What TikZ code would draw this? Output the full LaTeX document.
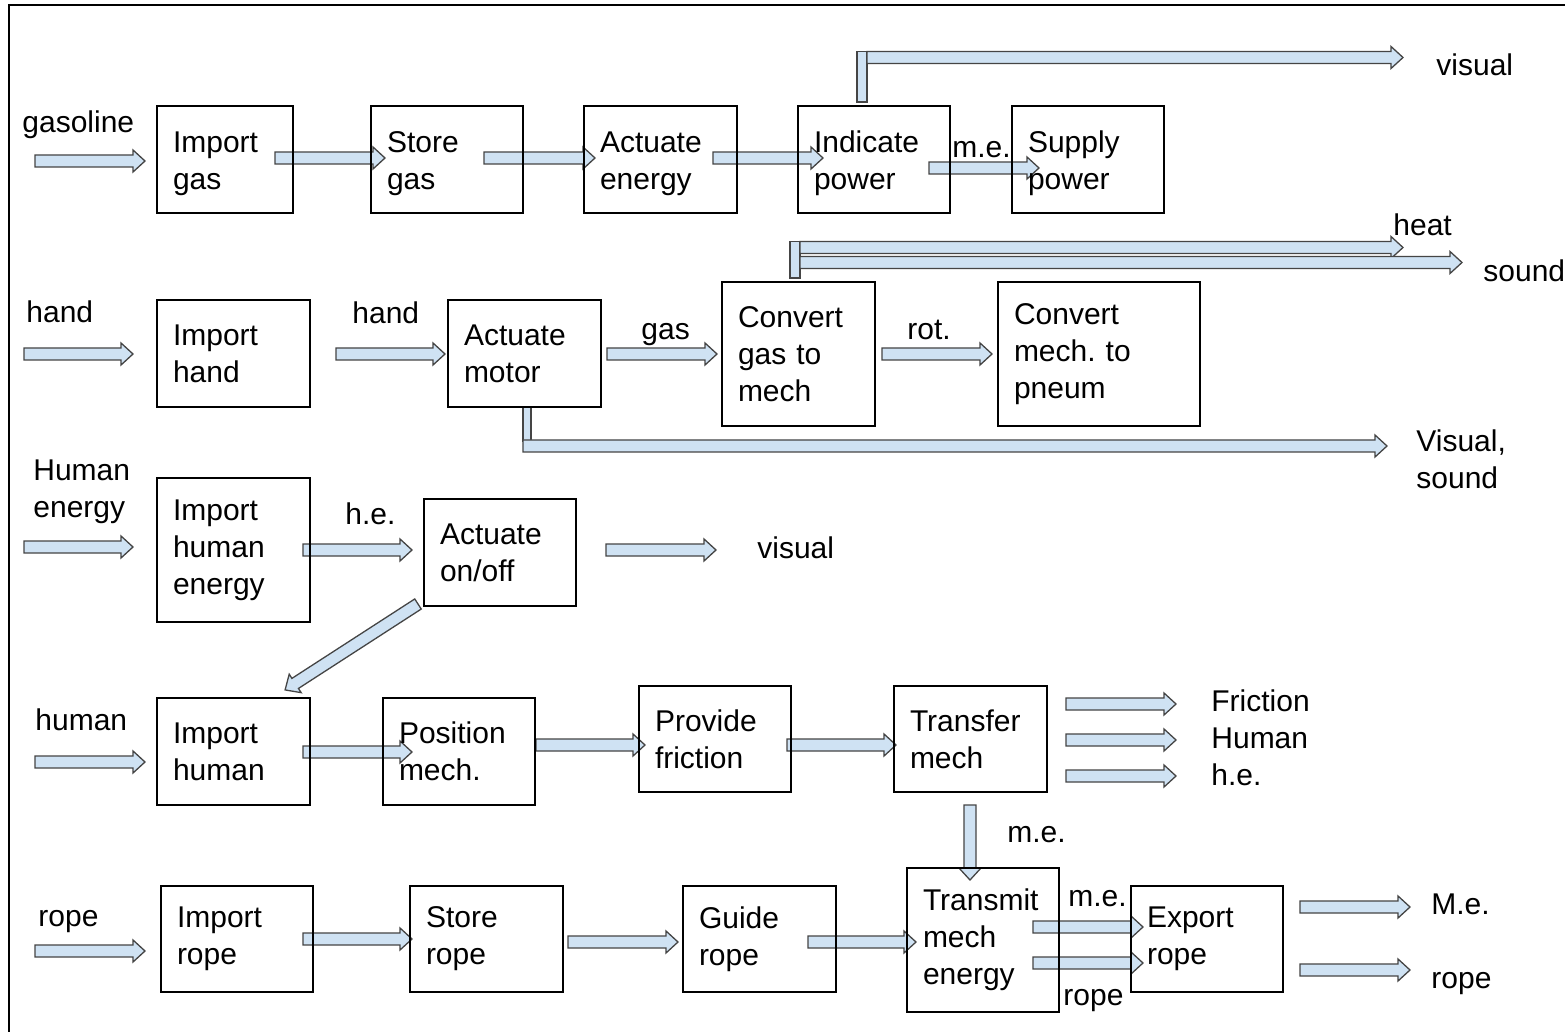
\documentclass[tikz,border=0pt]{standalone}
\usepackage{fontspec}
\setmainfont{Liberation Sans}
\usetikzlibrary{calc}
\definecolor{afill}{HTML}{CFE2F3}
\definecolor{aline}{HTML}{454545}
\pgfdeclarelayer{bg}
\pgfdeclarelayer{arr}
\pgfsetlayers{bg,arr,main}
\tikzset{
  barrow/.style={draw=aline, fill=afill, line width=0.65pt, line join=miter},
  box/.style={draw=black, line width=1.4pt, outer sep=0pt, inner xsep=8pt, inner ysep=0pt, align=left, anchor=north west, font=\fontsize{15}{18.5}\selectfont\frenchspacing},
  lbl/.style={inner sep=0pt, anchor=west, font=\fontsize{15}{18.5}\selectfont\frenchspacing, text height=11pt, text depth=3pt},
  lblm/.style={inner sep=0pt, anchor=north west, align=left, font=\fontsize{15}{18.5}\selectfont\frenchspacing},
}
\newcommand\barr[2]{%
  \path[barrow] let \p1=(#1), \p2=(#2), \n1={atan2(\y2-\y1,\x2-\x1)}, \n2={veclen(\x2-\x1,\y2-\y1)} in
    [shift={(\p1)}, rotate=\n1] (0pt,-3pt) -- ({\n2*1pt-6pt},-3pt) -- ({\n2*1pt-6pt},-5.5pt) -- ({\n2*1pt},0pt) -- ({\n2*1pt-6pt},5.5pt) -- ({\n2*1pt-6pt},3pt) -- (0pt,3pt) -- cycle;%
}
\newcommand\bx[6]{%
  \pgfmathsetmacro\bxtw{#4*0.5-16}%
  \pgfmathsetmacro\bxh{#5*0.5}%
  \node[box, text width=\bxtw pt, minimum height=\bxh pt] (#1) at (#2,#3) {#6};%
}
\newcommand\lowstrut{\rule{0pt}{14.5pt}}
\begin{document}
\begin{tikzpicture}[x=0.5pt,y=-0.5pt]
\useasboundingbox (0,0) rectangle (1565,1032);
\begin{pgfonlayer}{bg}
\fill[white] (0,0) rectangle (1565,1032);
\end{pgfonlayer}
\draw[line width=1.2pt] (9,1032) -- (9,5.3) -- (1565,5.3);

% boxes
\bx{ig}{157}{106}{136}{107}{\lowstrut Import\\gas}
\bx{sg}{371}{106}{152}{107}{\lowstrut Store\\gas}
\bx{ae}{584}{106}{153}{107}{\lowstrut Actuate\\energy}
\bx{ip}{798}{106}{152}{107}{\lowstrut Indicate\\power}
\bx{sp}{1012}{106}{152}{107}{\lowstrut Supply\\power}
\bx{ih}{157}{300}{153}{107}{Import\\hand}
\bx{am}{448}{300}{153}{107}{Actuate\\motor}
\bx{cg}{722}{282}{153}{144}{Convert\\gas to\\mech}
\bx{cm}{998}{282}{202}{144}{Convert\\mech. to\\pneum}
\bx{ihe}{157}{478}{153}{144}{Import\\human\\energy}
\bx{ao}{424}{499}{152}{107}{Actuate\\on/off}
\bx{ihu}{157}{698}{153}{107}{Import\\human}
\bx{pm}{383}{698}{152}{107}{Position\\mech.}
\bx{pf}{639}{686}{152}{106}{Provide\\friction}
\bx{tm}{894}{686}{153}{106}{Transfer\\mech}
\bx{ir}{161}{886}{152}{106}{Import\\rope}
\bx{sr}{410}{886}{153}{106}{Store\\rope}
\bx{gr}{683}{886}{153}{106}{Guide\\rope}
\bx{tme}{907}{868}{152}{144}{Transmit\\mech\\energy}
\bx{er}{1131}{886}{152}{106}{Export\\rope}

% labels
\node[lbl] (l1) at (22,125) {gasoline};
\node[lbl] (l2) at (1436,68) {visual};
\node[lbl] (l3) at (952,150) {m.e.};
\node[lbl] (l4) at (1393,228) {heat};
\node[lbl] (l5) at (1483,274) {sound};
\node[lbl] (l6) at (26,315) {hand};
\node[lbl] (l7) at (352,316) {hand};
\node[lbl] (l8) at (641,332) {gas};
\node[lbl] (l9) at (907,332) {rot.};
\node[lblm] (l10) at (1416,429) {Visual,\\sound};
\node[lblm] (l11) at (33,459) {Human\\energy};
\node[lbl] (l12) at (345,516) {h.e.};
\node[lbl] (l13) at (757,550) {visual};
\node[lbl] (l14) at (35,722) {human};
\node[lbl] (l15) at (1211,703) {Friction};
\node[lbl] (l16) at (1211,740) {Human};
\node[lbl] (l17) at (1211,777) {h.e.};
\node[lbl] (l18) at (1007,834) {m.e.};
\node[lbl] (l19) at (38,918) {rope};
\node[lbl] (l20) at (1068,898) {m.e.};
\node[lbl] (l21) at (1063,997) {rope};
\node[lbl] (l22) at (1431,906) {M.e.};
\node[lbl] (l23) at (1431,980) {rope};

% free ends
\coordinate (gin) at (35,161);
\coordinate (hin) at (24,354);
\coordinate (hein) at (24,547);
\coordinate (huin) at (35,762);
\coordinate (rin) at (35,951);
\coordinate (vis1) at (1403,57.5);
\coordinate (heat) at (1403,247.5);
\coordinate (snd) at (1462,262.5);
\coordinate (vs) at (1387,446);
\coordinate (vis3) at (716,550);
\coordinate (fr1) at (1176,704);
\coordinate (fr2) at (1176,740);
\coordinate (fr3) at (1176,776);
\coordinate (me5) at (1410,907);
\coordinate (rope5) at (1410,970);

\begin{pgfonlayer}{arr}
% row 1
\barr{gin}{$(ig.west)+(-12,1.5)$}
\barr{$(ig.east)+(-18,-1.5)$}{$(sg.west)+(14,-1.5)$}
\barr{$(sg.east)+(-39,-1.5)$}{$(ae.west)+(11,-1.5)$}
\barr{$(ae.east)+(-24,-1.5)$}{$(ip.west)+(25,-1.5)$}
\barr{$(ip.east)+(-21,8.5)$}{$(sp.west)+(27,8.5)$}
\filldraw[barrow] ($(ip.north west)+(59,-4)$) rectangle ($(ip.north west)+(69,-54.5)$);
\barr{$(ip.north west)+(69,-48.5)$}{vis1}
% row 2
\filldraw[barrow] ($(cg.north west)+(68,-4)$) rectangle ($(cg.north west)+(78,-40.5)$);
\barr{$(cg.north west)+(78,-34.5)$}{heat}
\barr{$(cg.north west)+(78,-19.5)$}{snd}
\barr{hin}{$(ih.west)+(-24,0.5)$}
\barr{$(ih.east)+(26,0.5)$}{$(am.west)+(-3,0.5)$}
\barr{$(am.east)+(6,0.5)$}{$(cg.west)+(-5,0)$}
\barr{$(cg.east)+(7,0)$}{$(cm.west)+(-6,0)$}
\filldraw[barrow] ($(am.south west)+(75,0)$) rectangle ($(am.south west)+(83,34)$);
\barr{$(am.south west)+(75,39)$}{vs}
% row 3
\barr{hein}{$(ihe.west)+(-24,-3)$}
\barr{$(ihe.east)+(-7,0)$}{$(ao.west)+(-12,-2.5)$}
\barr{$(ao.east)+(30,-2.5)$}{vis3}
\barr{$(ao.south west)+(-6,-2)$}{$(ihu.north west)+(128,-8)$}
% row 4
\barr{huin}{$(ihu.west)+(-12,10.5)$}
\barr{$(ihu.east)+(-7,0.5)$}{$(pm.west)+(29,0.5)$}
\barr{$(pm.east)+(1,-6.5)$}{$(pf.west)+(6,6)$}
\barr{$(pf.east)+(-4,6)$}{$(tm.west)+(2,6)$}
\barr{$(tm.east)+(19,-35)$}{fr1}
\barr{$(tm.east)+(19,1)$}{fr2}
\barr{$(tm.east)+(19,37)$}{fr3}
\barr{$(tm.south)+(-0.5,13)$}{$(tme.north)+(-13,12)$}
% row 5
\barr{rin}{$(ir.west)+(-16,12)$}
\barr{$(ir.east)+(-10,0)$}{$(sr.west)+(2,0)$}
\barr{$(sr.east)+(5,3)$}{$(gr.west)+(-5,3)$}
\barr{$(gr.east)+(-28,3)$}{$(tme.west)+(9,2)$}
\barr{$(tme.east)+(-26,-13)$}{$(er.west)+(12,-12)$}
\barr{$(tme.east)+(-26,23)$}{$(er.west)+(12,24)$}
\barr{$(er.east)+(17,-32)$}{me5}
\barr{$(er.east)+(17,31)$}{rope5}
\end{pgfonlayer}
\end{tikzpicture}
\end{document}
